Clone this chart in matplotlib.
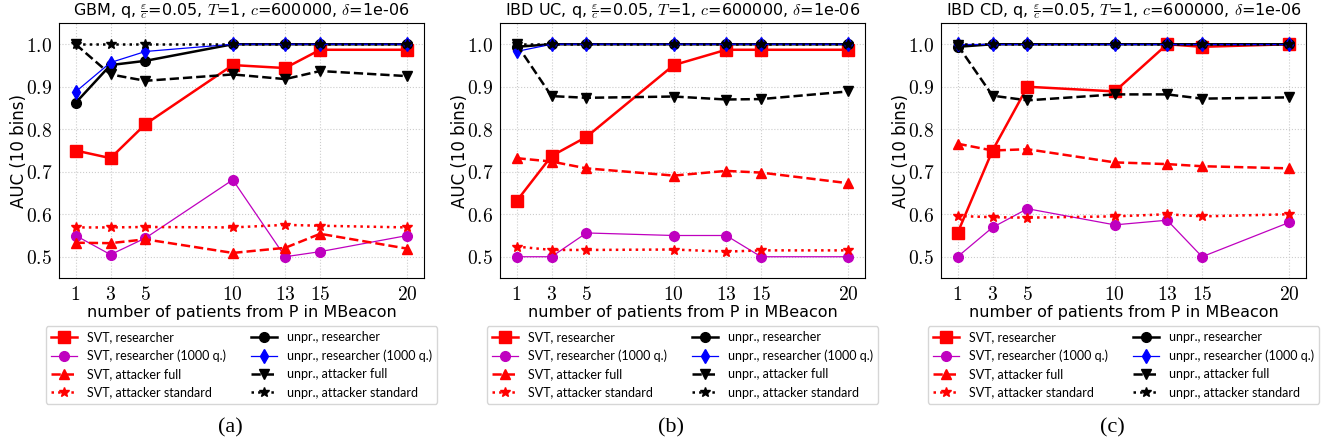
import matplotlib
matplotlib.use('Agg')
import matplotlib.pyplot as plt
from matplotlib.ticker import FuncFormatter

plt.rcParams['mathtext.fontset'] = 'cm'
plt.rcParams['font.family'] = 'DejaVu Sans'

x = [1, 3, 5, 10, 13, 15, 20]
datasets = ['GBM', 'IBD UC', 'IBD CD']
captions = ['(a)', '(b)', '(c)']

# SVT series
svt_res = [
    [0.750, 0.732, 0.812, 0.951, 0.944, 0.987, 0.987],
    [0.631, 0.737, 0.782, 0.951, 0.987, 0.987, 0.987],
    [0.556, 0.750, 0.900, 0.889, 1.000, 0.994, 1.000],
]
svt_res_1000 = [
    [0.550, 0.505, 0.544, 0.681, 0.500, 0.512, 0.550],
    [0.500, 0.500, 0.556, 0.550, 0.550, 0.500, 0.500],
    [0.500, 0.569, 0.613, 0.575, 0.586, 0.500, 0.581],
]
svt_att_full = [
    [0.533, 0.532, 0.541, 0.509, 0.521, 0.554, 0.519],
    [0.732, 0.724, 0.708, 0.691, 0.702, 0.698, 0.673],
    [0.766, 0.750, 0.753, 0.722, 0.718, 0.713, 0.708],
]
svt_att_std = [
    [0.569, 0.569, 0.570, 0.569, 0.575, 0.573, 0.569],
    [0.524, 0.516, 0.516, 0.517, 0.512, 0.515, 0.515],
    [0.596, 0.593, 0.592, 0.595, 0.600, 0.595, 0.600],
]
# unprotected series
unpr_res = [
    [0.862, 0.951, 0.961, 1.000, 1.000, 1.000, 1.000],
    [0.994, 1.000, 1.000, 1.000, 1.000, 1.000, 1.000],
    [0.994, 1.000, 1.000, 1.000, 1.000, 1.000, 1.000],
]
unpr_res_1000 = [
    [0.888, 0.957, 0.983, 1.000, 1.000, 1.000, 1.000],
    [0.983, 1.000, 1.000, 1.000, 1.000, 1.000, 1.000],
    [1.000, 1.000, 1.000, 1.000, 1.000, 1.000, 1.000],
]
unpr_att_full = [
    [1.000, 0.929, 0.914, 0.929, 0.918, 0.937, 0.925],
    [1.000, 0.878, 0.874, 0.877, 0.870, 0.871, 0.889],
    [0.998, 0.879, 0.868, 0.882, 0.882, 0.872, 0.875],
]
unpr_att_std = [
    [1.000, 1.000, 1.000, 1.000, 1.000, 1.000, 1.000],
    [1.000, 1.000, 1.000, 1.000, 1.000, 1.000, 1.000],
    [1.000, 1.000, 1.000, 1.000, 1.000, 1.000, 1.000],
]

fig = plt.figure(figsize=(13.24, 4.45), dpi=100)
lefts = [59, 500, 941]

for i in range(3):
    ax = fig.add_axes([lefts[i] / 1324, 1 - 278 / 445, 365 / 1324, 255 / 445])
    ax.plot(x, svt_res[i], color='red', marker='s', ls='-', lw=1.8, ms=8, label='SVT, researcher')
    ax.plot(x, svt_res_1000[i], color='m', marker='o', ls='-', lw=0.9, ms=7, label='SVT, researcher (1000 q.)')
    ax.plot(x, svt_att_full[i], color='red', marker='^', ls='--', lw=1.8, ms=7, label='SVT, attacker full')
    ax.plot(x, svt_att_std[i], color='red', marker='*', ls=':', lw=1.8, ms=7, label='SVT, attacker standard')
    ax.plot(x, unpr_res[i], color='black', marker='o', ls='-', lw=1.8, ms=7, label='unpr., researcher')
    ax.plot(x, unpr_res_1000[i], color='blue', marker='d', ls='-', lw=0.9, ms=7, label='unpr., researcher (1000 q.)')
    ax.plot(x, unpr_att_full[i], color='black', marker='v', ls='--', lw=1.8, ms=7, label='unpr., attacker full')
    ax.plot(x, unpr_att_std[i], color='black', marker='*', ls=':', lw=1.8, ms=7, label='unpr., attacker standard')

    ax.set_ylim(0.45, 1.05)
    ax.set_xticks(x)
    ax.set_yticks([0.5, 0.6, 0.7, 0.8, 0.9, 1.0])
    ax.xaxis.set_major_formatter(FuncFormatter(lambda v, p: '$%d$' % v))
    ax.yaxis.set_major_formatter(FuncFormatter(lambda v, p: '$%.1f$' % v))
    ax.tick_params(labelsize=14, length=0, pad=5)
    ax.grid(True, ls=':', color='#cccccc', lw=0.8)
    ax.set_title(datasets[i] + r', q, $\frac{\varepsilon}{c}$=0.05, $T$=1, $c$=600000, $\delta$=1e-06', fontsize=11.5)
    ax.set_xlabel('number of patients from P in MBeacon', fontsize=11.5, labelpad=1)
    ax.set_ylabel('AUC (10 bins)', fontsize=12)
    ax.yaxis.set_label_coords(-0.085, 0.5)
    ax.legend(loc='upper center', bbox_to_anchor=(0.5, -0.165), ncol=2,
              prop={'family': 'Lato', 'size': 9},
              handlelength=2.1, handletextpad=0.8, columnspacing=2.0,
              labelspacing=0.5, fancybox=True)
    fig.text((lefts[i] + 171) / 1324, 1 - 428 / 445, captions[i], ha='center', va='center',
             fontsize=16, family='Liberation Serif')

fig.savefig('out.png', dpi=100)
